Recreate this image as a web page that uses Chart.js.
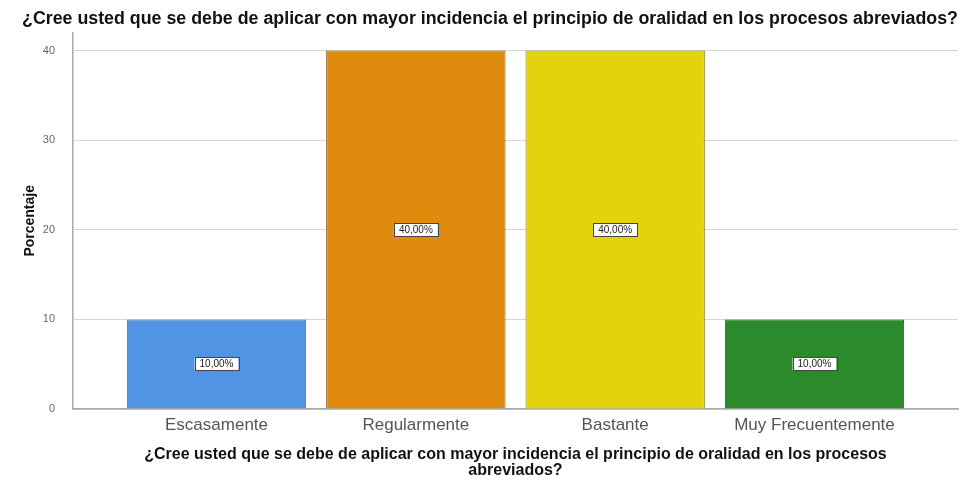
<!DOCTYPE html>
<html>
<head>
<meta charset="utf-8">
<script src="https://cdn.jsdelivr.net/npm/chart.js@4.4.1/dist/chart.umd.min.js"></script>
<style>
  html, body { margin: 0; padding: 0; background: #fff; }
  #wrap { width: 960px; height: 480px; }
</style>
</head>
<body>
<div id="wrap"><canvas id="barChart"></canvas></div>
<script>
const QUESTION = "¿Cree usted que se debe de aplicar con mayor incidencia el principio de oralidad en los procesos abreviados?";
const categories = ["Escasamente", "Regularmente", "Bastante", "Muy Frecuentemente"];
const percentages = [10, 40, 40, 10];
const barColors = ["#5094e3", "#e08b0e", "#e2d40c", "#2b8a2b"];
const barBorders = ["#3d6fa8", "#8a5a1e", "#8c8420", "#1d5a1d"];
const yTicks = [0, 10, 20, 30, 40];

// little white boxes with the percentage in the middle of each bar
const valueBoxes = {
    id: 'valueBoxes',
    afterDatasetsDraw(chart) {
        const ctx = chart.ctx;
        const meta = chart.getDatasetMeta(0);
        ctx.save();
        ctx.font = '10px "Liberation Sans", Arial, sans-serif';
        ctx.textAlign = 'center';
        ctx.textBaseline = 'middle';
        meta.data.forEach((bar, i) => {
            const text = percentages[i].toFixed(2).replace('.', ',') + '%';
            const cx = bar.x;
            const cy = (bar.y + bar.base) / 2;
            const w = ctx.measureText(text).width + 10;
            const h = 13;
            ctx.fillStyle = '#ffffff';
            ctx.fillRect(cx - w / 2, cy - h / 2, w, h);
            ctx.strokeStyle = '#444';
            ctx.lineWidth = 1;
            ctx.strokeRect(Math.round(cx - w / 2) + 0.5, Math.round(cy - h / 2) + 0.5, Math.round(w), h);
            ctx.fillStyle = '#222';
            ctx.fillText(text, cx, cy + 0.5);
        });
        ctx.restore();
    }
};

const ctx = document.getElementById('barChart').getContext('2d');
new Chart(ctx, {
    type: 'bar',
    data: {
        datasets: [{
            data: percentages.map((v, i) => ({ x: i, y: v })),
            backgroundColor: barColors,
            borderColor: barBorders,
            borderWidth: 1,
            barPercentage: 0.9,
            categoryPercentage: 1.0
        }]
    },
    options: {
        responsive: true,
        maintainAspectRatio: false,
        animation: false,
        layout: { padding: { left: 22, right: 2, top: 0, bottom: 1 } },
        plugins: {
            legend: { display: false },
            tooltip: { enabled: false },
            title: {
                display: true,
                text: QUESTION,
                color: '#111',
                font: { family: '"Liberation Sans", Arial, sans-serif', size: 18, weight: 'bold' },
                padding: { top: 8, bottom: 3 }
            }
        },
        scales: {
            x: {
                type: 'linear',
                offset: false,
                min: -0.72,
                max: 3.72,
                grid: { display: false, drawTicks: false },
                border: { display: true, color: '#aaa', width: 1.5 },
                afterBuildTicks: (scale) => {
                    scale.ticks = categories.map((c, i) => ({ value: i }));
                },
                afterFit: (scale) => { scale.height = 70; },
                ticks: {
                    autoSkip: false,
                    maxRotation: 0,
                    padding: 6,
                    color: '#555',
                    font: { family: '"Liberation Sans", Arial, sans-serif', size: 17 },
                    callback: (value) => categories[value]
                },
                title: {
                    display: true,
                    text: ["¿Cree usted que se debe de aplicar con mayor incidencia el principio de oralidad en los procesos", "abreviados?"],
                    color: '#111',
                    font: { family: '"Liberation Sans", Arial, sans-serif', size: 16, weight: 'bold', lineHeight: 1.0 },
                    padding: { top: 0, bottom: 0 }
                }
            },
            y: {
                min: 0,
                max: 42,
                grid: { color: '#d6d6d6', drawTicks: false },
                border: { display: true, color: '#aaa', width: 1.5 },
                afterBuildTicks: (scale) => {
                    scale.ticks = yTicks.map(v => ({ value: v }));
                },
                afterFit: (scale) => { scale.width = 51; },
                ticks: {
                    padding: 18,
                    color: '#666',
                    font: { family: '"Liberation Sans", Arial, sans-serif', size: 11 }
                },
                title: {
                    display: true,
                    text: 'Porcentaje',
                    color: '#111',
                    font: { family: '"Liberation Sans", Arial, sans-serif', size: 14, weight: 'bold' },
                    padding: { top: 0, bottom: 0 }
                }
            }
        }
    },
    plugins: [valueBoxes]
});
</script>
</body>
</html>
